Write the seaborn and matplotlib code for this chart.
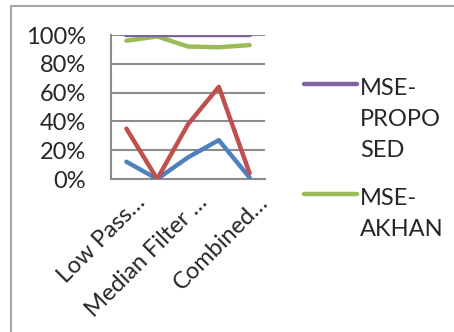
import matplotlib
matplotlib.use("Agg")
import matplotlib.pyplot as plt
import matplotlib.transforms as mtransforms
from matplotlib.lines import Line2D
from matplotlib.patches import Rectangle
import seaborn as sns
import pandas as pd

# data
categories = ["Low Pass…", "Low Pass + Median", "Median Filter …", "Median + Combined", "Combined…"]
series_a = [0.12, 0.00, 0.15, 0.27, 0.01]
series_b = [0.35, 0.00, 0.38, 0.64, 0.04]
mse_akhan = [0.96, 0.99, 0.92, 0.915, 0.93]
mse_proposed = [1.00, 1.00, 1.00, 1.00, 1.00]

names = ["Series A", "Series B", "MSE-AKHAN", "MSE-PROPOSED"]
values = [series_a, series_b, mse_akhan, mse_proposed]
colors = ["#4F81BD", "#C0504D", "#9BBB59", "#8064A2"]

rows = []
for name, vals in zip(names, values):
    for i, v in enumerate(vals):
        rows.append({"idx": i, "value": v, "series": name})
df = pd.DataFrame(rows)

sns.set_style("white")
plt.rcParams['font.family'] = ['Lato', 'DejaVu Sans']
fs = 17
grid_c = "#8c8c8c"

fig = plt.figure(figsize=(4.54, 3.32), dpi=100)
ax = fig.add_axes([111 / 454, 1 - 179 / 332, (265 - 111) / 454, (179 - 35) / 332])

sns.lineplot(data=df, x="idx", y="value", hue="series", palette=colors,
             linewidth=3.2, legend=False, ax=ax, zorder=3)

ax.set_xlim(-0.5, 4.5)
ax.set_ylim(0, 1)
ax.set_yticks([0, 0.2, 0.4, 0.6, 0.8, 1.0])
ax.set_yticklabels(["0%", "20%", "40%", "60%", "80%", "100%"], fontsize=fs)
ax.yaxis.grid(True, color=grid_c, linewidth=1.5)
ax.set_axisbelow(True)

ax.set_xticks([-0.5, 0.5, 1.5, 2.5, 3.5, 4.5], minor=True)
ax.set_xticks([0, 2, 4])
ax.set_xticklabels([categories[0], categories[2], categories[4]], fontsize=fs,
                   rotation=45, ha="right", va="top", rotation_mode="anchor")
ax.tick_params(axis="x", which="major", length=0, pad=9)
ax.tick_params(axis="x", which="minor", length=6, width=1.5, color=grid_c, direction="out")
ax.tick_params(axis="y", length=6, width=1.5, color=grid_c, pad=12, direction="out")
ax.set_xlabel("")
ax.set_ylabel("")

offset = mtransforms.ScaledTranslation(8 / 100, 0, fig.dpi_scale_trans)
for lab in ax.get_xticklabels():
    lab.set_transform(lab.get_transform() + offset)

for side in ["top", "right"]:
    ax.spines[side].set_visible(False)
for side in ["left", "bottom"]:
    ax.spines[side].set_color(grid_c)
    ax.spines[side].set_linewidth(1.5)

# legend (only two entries visible in the reference)
W, H = 454, 332
leg = [(["MSE-", "PROPO", "SED"], colors[3], 84), (["MSE-", "AKHAN"], colors[2], 194)]
for lines, c, yy in leg:
    fig.add_artist(Line2D([304 / W, 357 / W], [1 - yy / H, 1 - yy / H],
                          color=c, linewidth=3.2, solid_capstyle="round"))
    for k, t in enumerate(lines):
        base = yy + 11 + 31 * k
        fig.text(360 / W, 1 - base / H, t, fontsize=fs, va="baseline", ha="left")

# chart border
fig.add_artist(Rectangle((11 / W, -0.1), 1.2, 1.1 - 6 / H, fill=False,
                         edgecolor="#a6a6a6", linewidth=1.5, transform=fig.transFigure))

fig.savefig("out.png", dpi=100)
